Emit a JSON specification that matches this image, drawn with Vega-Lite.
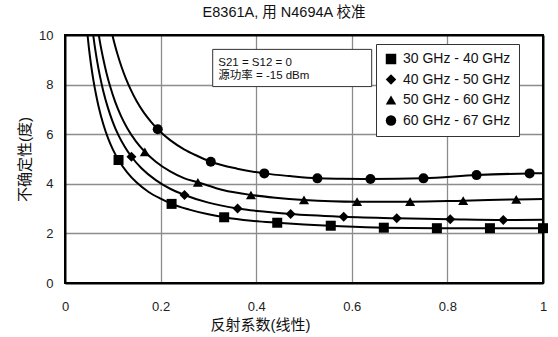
{
  "$schema": "https://vega.github.io/schema/vega-lite/v6.json",
  "width": 478,
  "height": 248,
  "autosize": {"type": "none"},
  "padding": {"left": 65, "top": 35, "right": 15, "bottom": 54},
  "background": "white",
  "title": {
    "text": "E8361A, 用 N4694A 校准",
    "font": "Liberation Sans, Noto Sans CJK SC",
    "fontSize": 14.5,
    "fontWeight": "normal",
    "color": "#111",
    "offset": 9,
    "dx": -20
  },
  "config": {
    "view": {"stroke": null},
    "font": "Liberation Sans, Noto Sans CJK SC"
  },
  "resolve": {"axis": {"x": "independent", "y": "independent"}},
  "datasets": {
    "curves": [
      {"s": "30 GHz - 40 GHz", "x": 0.045, "y": 10.39},
      {"s": "30 GHz - 40 GHz", "x": 0.05, "y": 9.48},
      {"s": "30 GHz - 40 GHz", "x": 0.055, "y": 8.73},
      {"s": "30 GHz - 40 GHz", "x": 0.06, "y": 8.11},
      {"s": "30 GHz - 40 GHz", "x": 0.065, "y": 7.59},
      {"s": "30 GHz - 40 GHz", "x": 0.07, "y": 7.14},
      {"s": "30 GHz - 40 GHz", "x": 0.08, "y": 6.41},
      {"s": "30 GHz - 40 GHz", "x": 0.09, "y": 5.84},
      {"s": "30 GHz - 40 GHz", "x": 0.1, "y": 5.39},
      {"s": "30 GHz - 40 GHz", "x": 0.112, "y": 4.96},
      {"s": "30 GHz - 40 GHz", "x": 0.13, "y": 4.46},
      {"s": "30 GHz - 40 GHz", "x": 0.15, "y": 4.05},
      {"s": "30 GHz - 40 GHz", "x": 0.175, "y": 3.67},
      {"s": "30 GHz - 40 GHz", "x": 0.2, "y": 3.4},
      {"s": "30 GHz - 40 GHz", "x": 0.223, "y": 3.19},
      {"s": "30 GHz - 40 GHz", "x": 0.26, "y": 2.96},
      {"s": "30 GHz - 40 GHz", "x": 0.3, "y": 2.77},
      {"s": "30 GHz - 40 GHz", "x": 0.333, "y": 2.65},
      {"s": "30 GHz - 40 GHz", "x": 0.39, "y": 2.51},
      {"s": "30 GHz - 40 GHz", "x": 0.444, "y": 2.43},
      {"s": "30 GHz - 40 GHz", "x": 0.5, "y": 2.36},
      {"s": "30 GHz - 40 GHz", "x": 0.556, "y": 2.31},
      {"s": "30 GHz - 40 GHz", "x": 0.667, "y": 2.23},
      {"s": "30 GHz - 40 GHz", "x": 0.778, "y": 2.21},
      {"s": "30 GHz - 40 GHz", "x": 0.889, "y": 2.21},
      {"s": "30 GHz - 40 GHz", "x": 1.0, "y": 2.21},
      {"s": "40 GHz - 50 GHz", "x": 0.058, "y": 10.14},
      {"s": "40 GHz - 50 GHz", "x": 0.062, "y": 9.58},
      {"s": "40 GHz - 50 GHz", "x": 0.067, "y": 8.97},
      {"s": "40 GHz - 50 GHz", "x": 0.073, "y": 8.35},
      {"s": "40 GHz - 50 GHz", "x": 0.08, "y": 7.74},
      {"s": "40 GHz - 50 GHz", "x": 0.09, "y": 7.05},
      {"s": "40 GHz - 50 GHz", "x": 0.1, "y": 6.49},
      {"s": "40 GHz - 50 GHz", "x": 0.112, "y": 5.95},
      {"s": "40 GHz - 50 GHz", "x": 0.125, "y": 5.49},
      {"s": "40 GHz - 50 GHz", "x": 0.139, "y": 5.09},
      {"s": "40 GHz - 50 GHz", "x": 0.16, "y": 4.63},
      {"s": "40 GHz - 50 GHz", "x": 0.19, "y": 4.15},
      {"s": "40 GHz - 50 GHz", "x": 0.22, "y": 3.8},
      {"s": "40 GHz - 50 GHz", "x": 0.25, "y": 3.55},
      {"s": "40 GHz - 50 GHz", "x": 0.3, "y": 3.24},
      {"s": "40 GHz - 50 GHz", "x": 0.361, "y": 3.0},
      {"s": "40 GHz - 50 GHz", "x": 0.42, "y": 2.87},
      {"s": "40 GHz - 50 GHz", "x": 0.472, "y": 2.78},
      {"s": "40 GHz - 50 GHz", "x": 0.583, "y": 2.67},
      {"s": "40 GHz - 50 GHz", "x": 0.694, "y": 2.61},
      {"s": "40 GHz - 50 GHz", "x": 0.806, "y": 2.57},
      {"s": "40 GHz - 50 GHz", "x": 0.917, "y": 2.54},
      {"s": "40 GHz - 50 GHz", "x": 1.0, "y": 2.55},
      {"s": "50 GHz - 60 GHz", "x": 0.07, "y": 10.08},
      {"s": "50 GHz - 60 GHz", "x": 0.075, "y": 9.52},
      {"s": "50 GHz - 60 GHz", "x": 0.08, "y": 9.04},
      {"s": "50 GHz - 60 GHz", "x": 0.087, "y": 8.45},
      {"s": "50 GHz - 60 GHz", "x": 0.095, "y": 7.89},
      {"s": "50 GHz - 60 GHz", "x": 0.105, "y": 7.3},
      {"s": "50 GHz - 60 GHz", "x": 0.117, "y": 6.74},
      {"s": "50 GHz - 60 GHz", "x": 0.13, "y": 6.25},
      {"s": "50 GHz - 60 GHz", "x": 0.148, "y": 5.72},
      {"s": "50 GHz - 60 GHz", "x": 0.167, "y": 5.29},
      {"s": "50 GHz - 60 GHz", "x": 0.19, "y": 4.89},
      {"s": "50 GHz - 60 GHz", "x": 0.22, "y": 4.5},
      {"s": "50 GHz - 60 GHz", "x": 0.25, "y": 4.22},
      {"s": "50 GHz - 60 GHz", "x": 0.278, "y": 4.06},
      {"s": "50 GHz - 60 GHz", "x": 0.33, "y": 3.75},
      {"s": "50 GHz - 60 GHz", "x": 0.389, "y": 3.55},
      {"s": "50 GHz - 60 GHz", "x": 0.44, "y": 3.44},
      {"s": "50 GHz - 60 GHz", "x": 0.5, "y": 3.35},
      {"s": "50 GHz - 60 GHz", "x": 0.611, "y": 3.28},
      {"s": "50 GHz - 60 GHz", "x": 0.722, "y": 3.28},
      {"s": "50 GHz - 60 GHz", "x": 0.833, "y": 3.32},
      {"s": "50 GHz - 60 GHz", "x": 0.944, "y": 3.37},
      {"s": "50 GHz - 60 GHz", "x": 1.0, "y": 3.39},
      {"s": "60 GHz - 67 GHz", "x": 0.098, "y": 10.08},
      {"s": "60 GHz - 67 GHz", "x": 0.103, "y": 9.7},
      {"s": "60 GHz - 67 GHz", "x": 0.11, "y": 9.21},
      {"s": "60 GHz - 67 GHz", "x": 0.118, "y": 8.73},
      {"s": "60 GHz - 67 GHz", "x": 0.127, "y": 8.26},
      {"s": "60 GHz - 67 GHz", "x": 0.137, "y": 7.82},
      {"s": "60 GHz - 67 GHz", "x": 0.15, "y": 7.33},
      {"s": "60 GHz - 67 GHz", "x": 0.165, "y": 6.87},
      {"s": "60 GHz - 67 GHz", "x": 0.18, "y": 6.5},
      {"s": "60 GHz - 67 GHz", "x": 0.194, "y": 6.2},
      {"s": "60 GHz - 67 GHz", "x": 0.22, "y": 5.76},
      {"s": "60 GHz - 67 GHz", "x": 0.25, "y": 5.38},
      {"s": "60 GHz - 67 GHz", "x": 0.275, "y": 5.14},
      {"s": "60 GHz - 67 GHz", "x": 0.305, "y": 4.89},
      {"s": "60 GHz - 67 GHz", "x": 0.36, "y": 4.61},
      {"s": "60 GHz - 67 GHz", "x": 0.417, "y": 4.42},
      {"s": "60 GHz - 67 GHz", "x": 0.47, "y": 4.31},
      {"s": "60 GHz - 67 GHz", "x": 0.528, "y": 4.22},
      {"s": "60 GHz - 67 GHz", "x": 0.58, "y": 4.2},
      {"s": "60 GHz - 67 GHz", "x": 0.639, "y": 4.19},
      {"s": "60 GHz - 67 GHz", "x": 0.75, "y": 4.22},
      {"s": "60 GHz - 67 GHz", "x": 0.861, "y": 4.35},
      {"s": "60 GHz - 67 GHz", "x": 0.972, "y": 4.42},
      {"s": "60 GHz - 67 GHz", "x": 1.0, "y": 4.43}
    ],
    "markers": [
      {"s": "30 GHz - 40 GHz", "x": 0.112, "y": 4.96},
      {"s": "30 GHz - 40 GHz", "x": 0.223, "y": 3.19},
      {"s": "30 GHz - 40 GHz", "x": 0.333, "y": 2.65},
      {"s": "30 GHz - 40 GHz", "x": 0.444, "y": 2.43},
      {"s": "30 GHz - 40 GHz", "x": 0.556, "y": 2.31},
      {"s": "30 GHz - 40 GHz", "x": 0.667, "y": 2.23},
      {"s": "30 GHz - 40 GHz", "x": 0.778, "y": 2.21},
      {"s": "30 GHz - 40 GHz", "x": 0.889, "y": 2.21},
      {"s": "30 GHz - 40 GHz", "x": 1.0, "y": 2.21},
      {"s": "40 GHz - 50 GHz", "x": 0.139, "y": 5.09},
      {"s": "40 GHz - 50 GHz", "x": 0.25, "y": 3.55},
      {"s": "40 GHz - 50 GHz", "x": 0.361, "y": 3.0},
      {"s": "40 GHz - 50 GHz", "x": 0.472, "y": 2.78},
      {"s": "40 GHz - 50 GHz", "x": 0.583, "y": 2.67},
      {"s": "40 GHz - 50 GHz", "x": 0.694, "y": 2.61},
      {"s": "40 GHz - 50 GHz", "x": 0.806, "y": 2.57},
      {"s": "40 GHz - 50 GHz", "x": 0.917, "y": 2.54},
      {"s": "50 GHz - 60 GHz", "x": 0.167, "y": 5.29},
      {"s": "50 GHz - 60 GHz", "x": 0.278, "y": 4.06},
      {"s": "50 GHz - 60 GHz", "x": 0.389, "y": 3.55},
      {"s": "50 GHz - 60 GHz", "x": 0.5, "y": 3.35},
      {"s": "50 GHz - 60 GHz", "x": 0.611, "y": 3.28},
      {"s": "50 GHz - 60 GHz", "x": 0.722, "y": 3.28},
      {"s": "50 GHz - 60 GHz", "x": 0.833, "y": 3.32},
      {"s": "50 GHz - 60 GHz", "x": 0.944, "y": 3.37},
      {"s": "60 GHz - 67 GHz", "x": 0.194, "y": 6.2},
      {"s": "60 GHz - 67 GHz", "x": 0.305, "y": 4.89},
      {"s": "60 GHz - 67 GHz", "x": 0.417, "y": 4.42},
      {"s": "60 GHz - 67 GHz", "x": 0.528, "y": 4.22},
      {"s": "60 GHz - 67 GHz", "x": 0.639, "y": 4.19},
      {"s": "60 GHz - 67 GHz", "x": 0.75, "y": 4.22},
      {"s": "60 GHz - 67 GHz", "x": 0.861, "y": 4.35},
      {"s": "60 GHz - 67 GHz", "x": 0.972, "y": 4.42}
    ],
    "notebox": [{"x": 0.309, "x2": 0.6416, "y": 7.92, "y2": 9.42}],
    "notetext": [
      {"x": 0.3207, "y": 8.73, "t": "S21 = S12 = 0"},
      {"x": 0.3207, "y": 8.24, "t": "源功率 = -15 dBm"}
    ],
    "plotframe": [{"x": 0, "x2": 1, "y": 0, "y2": 10}]
  },
  "layer": [
    {
      "data": {"name": "curves"},
      "mark": {"type": "line", "color": "black", "strokeWidth": 2, "interpolate": "monotone", "clip": true},
      "encoding": {
        "x": {
          "field": "x",
          "type": "quantitative",
          "scale": {"domain": [0, 1], "nice": false, "zero": false},
          "axis": {
            "values": [0, 0.2, 0.4, 0.6, 0.8, 1],
            "format": "~g",
            "grid": false,
            "ticks": false,
            "domain": true,
            "domainColor": "black",
            "domainWidth": 2,
            "labelFontSize": 13,
            "labelColor": "#222",
            "labelPadding": 17,
            "labelFlush": false,
            "title": "反射系数(线性)",
            "titleFontSize": 15,
            "titleFontWeight": "normal",
            "titleColor": "#111",
            "titlePadding": 4,
            "titleX": 195
          }
        },
        "y": {
          "field": "y",
          "type": "quantitative",
          "scale": {"domain": [0, 10], "nice": false, "zero": true},
          "axis": {
            "values": [0, 2, 4, 6, 8, 10],
            "grid": false,
            "ticks": false,
            "domain": true,
            "domainColor": "black",
            "domainWidth": 2,
            "labelFontSize": 13,
            "labelColor": "#222",
            "labelPadding": 12,
            "labelFlush": false,
            "title": "不确定性(度)",
            "titleFontSize": 15,
            "titleFontWeight": "normal",
            "titleColor": "#111",
            "titlePadding": 6
          }
        },
        "detail": {"field": "s"}
      }
    },
    {
      "data": {"name": "markers"},
      "mark": {"type": "point", "filled": true, "color": "black", "opacity": 1, "size": 100},
      "encoding": {
        "x": {
          "field": "x",
          "type": "quantitative",
          "axis": {"values": [0.2, 0.4, 0.6, 0.8], "grid": true, "gridColor": "#8c8c8c", "gridWidth": 1.3, "labels": false, "ticks": false, "domain": false, "title": null}
        },
        "y": {
          "field": "y",
          "type": "quantitative",
          "axis": {"values": [2, 4, 6, 8], "grid": true, "gridColor": "#8c8c8c", "gridWidth": 1.3, "labels": false, "ticks": false, "domain": false, "title": null}
        },
        "shape": {
          "field": "s",
          "type": "nominal",
          "scale": {
            "domain": ["30 GHz - 40 GHz", "40 GHz - 50 GHz", "50 GHz - 60 GHz", "60 GHz - 67 GHz"],
            "range": ["square", "diamond", "triangle-up", "circle"]
          },
          "legend": {
            "title": null,
            "orient": "none",
            "legendX": 311,
            "legendY": 9,
            "strokeColor": "#333",
            "fillColor": "white",
            "padding": 8,
            "labelFontSize": 14,
            "labelColor": "#111",
            "labelOffset": 5,
            "symbolSize": 110,
            "symbolFillColor": "black",
            "symbolStrokeColor": "black",
            "symbolStrokeWidth": 0,
            "rowPadding": 6.5
          }
        }
      }
    },
    {
      "data": {"name": "notebox"},
      "mark": {"type": "rect", "fill": "white", "stroke": "#333", "strokeWidth": 1},
      "encoding": {
        "x": {
          "field": "x",
          "type": "quantitative",
          "axis": {"orient": "top", "values": [0, 1], "labels": false, "ticks": false, "grid": false, "title": null, "domain": true, "domainColor": "black", "domainWidth": 2}
        },
        "x2": {"field": "x2"},
        "y": {
          "field": "y",
          "type": "quantitative",
          "axis": {"orient": "right", "values": [0, 10], "labels": false, "ticks": false, "grid": false, "title": null, "domain": true, "domainColor": "black", "domainWidth": 2}
        },
        "y2": {"field": "y2"}
      }
    },
    {
      "data": {"name": "notetext"},
      "mark": {"type": "text", "align": "left", "baseline": "alphabetic", "fontSize": 11.5, "color": "#111"},
      "encoding": {
        "x": {"field": "x", "type": "quantitative", "axis": null},
        "y": {"field": "y", "type": "quantitative", "axis": null},
        "text": {"field": "t"}
      }
    },
    {
      "data": {"name": "plotframe"},
      "mark": {"type": "rect", "fill": "transparent", "stroke": "black", "strokeWidth": 2},
      "encoding": {
        "x": {"field": "x", "type": "quantitative", "axis": null},
        "x2": {"field": "x2"},
        "y": {"field": "y", "type": "quantitative", "axis": null},
        "y2": {"field": "y2"}
      }
    }
  ]
}
